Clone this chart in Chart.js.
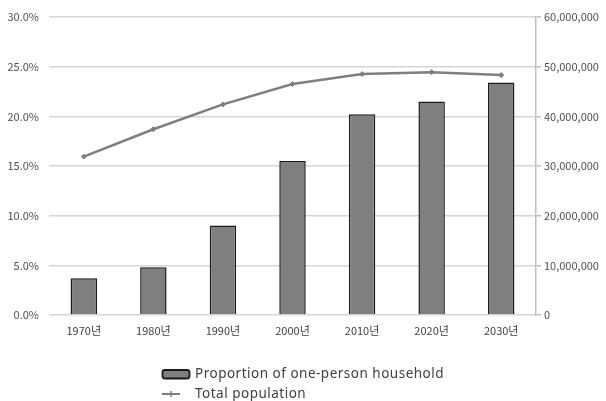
<!DOCTYPE html>
<html>
<head>
<meta charset="utf-8">
<script src="https://cdn.jsdelivr.net/npm/chart.js@4/dist/chart.umd.min.js"></script>
<style>
  html, body { margin: 0; padding: 0; background: #ffffff; }
  #wrap { width: 606px; height: 401px; }
</style>
</head>
<body>
<div id="wrap"><canvas id="c" width="606" height="401"></canvas></div>
<script>
// Census years
const categories = ['1970년', '1980년', '1990년', '2000년', '2010년', '2020년', '2030년'];
// Share of one-person households (%)
const onePersonShare = [3.7, 4.8, 9.0, 15.5, 20.2, 21.5, 23.4];
// Total population (persons)
const totalPopulation = [31900000, 37400000, 42400000, 46500000, 48500000, 48900000, 48300000];
const seriesNames = ['Proportion of one-person household', 'Total population'];

const tickFont = { family: '"Noto Sans CJK KR", "Noto Sans", sans-serif', size: 11 };
const tickColor = '#505050';

// Vertical legend under the plot: bar series first, then the line
const stackedLegend = {
  id: 'stackedLegend',
  afterDraw(chart) {
    const ctx = chart.ctx;
    ctx.save();
    ctx.font = '13.5px "Noto Sans", sans-serif';
    if ('letterSpacing' in ctx) ctx.letterSpacing = '0.5px';
    const iconW = 28, gap = 5;
    let textW = 0;
    const items = seriesNames.map(name => chart.data.datasets.find(ds => ds.label === name));
    items.forEach(ds => { textW = Math.max(textW, ctx.measureText(ds.label).width); });
    const left = Math.round((chart.width - (iconW + gap + textW)) / 2);
    const rows = [374, 394];
    items.forEach((ds, i) => {
      const y = rows[i];
      if (ds.type === 'bar') {
        ctx.fillStyle = ds.backgroundColor;
        ctx.strokeStyle = ds.borderColor;
        ctx.lineWidth = 1.8;
        ctx.beginPath();
        ctx.roundRect(left + 0.5, y - 4, iconW - 1, 8.5, 2.5);
        ctx.fill();
        ctx.stroke();
      } else {
        ctx.strokeStyle = ds.borderColor;
        ctx.lineWidth = 2;
        ctx.beginPath();
        ctx.moveTo(left, y);
        ctx.lineTo(left + 18, y);
        ctx.stroke();
        ctx.lineWidth = 1.5;
        ctx.beginPath();
        ctx.moveTo(left + 9, y - 3);
        ctx.lineTo(left + 9, y + 3);
        ctx.stroke();
      }
      ctx.fillStyle = '#404040';
      ctx.textBaseline = 'middle';
      ctx.textAlign = 'left';
      ctx.fillText(ds.label, left + iconW + gap, y);
    });
    ctx.restore();
  }
};

new Chart(document.getElementById('c'), {
  data: {
    labels: categories,
    datasets: [
      {
        type: 'line',
        label: seriesNames[1],
        data: totalPopulation,
        yAxisID: 'y2',
        borderColor: '#7f7f7f',
        backgroundColor: '#7f7f7f',
        borderWidth: 2.5,
        pointStyle: 'rectRot',
        pointRadius: 2.5,
        pointBorderWidth: 1,
        tension: 0,
        order: 0
      },
      {
        type: 'bar',
        label: seriesNames[0],
        data: onePersonShare,
        yAxisID: 'y',
        backgroundColor: '#7f7f7f',
        borderColor: '#1a1a1a',
        borderWidth: 1.5,
        barPercentage: 0.38,
        categoryPercentage: 1,
        order: 1
      }
    ]
  },
  options: {
    responsive: false,
    animation: false,
    devicePixelRatio: 1,
    layout: { padding: { top: 17, left: 0, right: 0, bottom: 0 } },
    plugins: {
      legend: { display: false },
      tooltip: { enabled: false }
    },
    scales: {
      x: {
        grid: { display: false, drawTicks: false },
        border: { display: false },
        ticks: { font: { family: '"Noto Sans CJK KR", sans-serif', size: 11 }, color: '#404040', padding: 9, maxRotation: 0 },
        afterFit(scale) { scale.height = 86; }
      },
      y: {
        position: 'left',
        min: 0,
        max: 30,
        ticks: {
          stepSize: 5,
          font: tickFont,
          color: tickColor,
          padding: 10,
          callback: v => v.toFixed(1) + '%'
        },
        grid: { color: '#d6d6d6', lineWidth: 1.5, drawTicks: false },
        border: { display: false },
        afterFit(scale) { scale.width = 49; }
      },
      y2: {
        position: 'right',
        min: 0,
        max: 60000000,
        ticks: {
          stepSize: 10000000,
          font: tickFont,
          color: tickColor,
          padding: 3,
          callback: v => v.toLocaleString('en-US')
        },
        grid: { drawOnChartArea: false, drawTicks: true, tickLength: 5, color: '#bfbfbf', lineWidth: 1.5 },
        border: { display: true, color: '#bfbfbf', width: 1.5 },
        afterFit(scale) { scale.width = 70; }
      }
    }
  },
  plugins: [stackedLegend]
});
</script>
</body>
</html>
